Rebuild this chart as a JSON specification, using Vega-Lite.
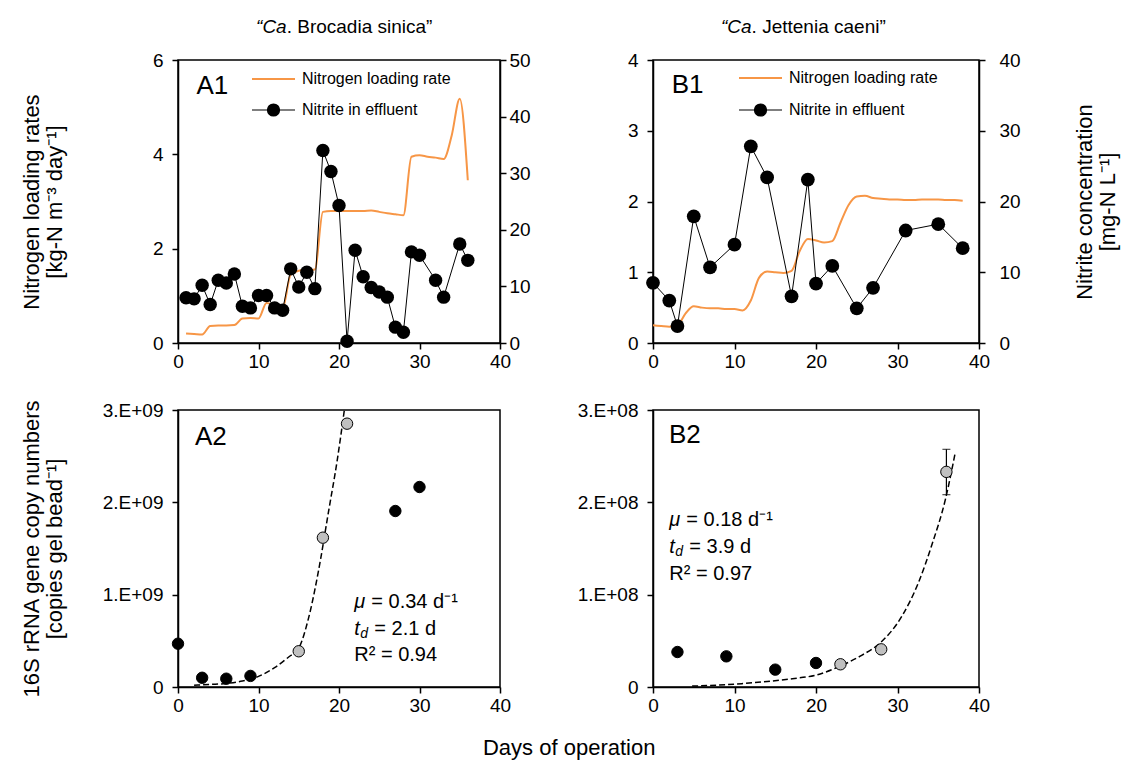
{
  "$schema": "https://vega.github.io/schema/vega-lite/v6.json",
  "background": "white",
  "padding": {"left": 19, "top": 16, "right": 5, "bottom": 5},
  "datasets": {
    "a1_nlr": [
      {"day":1,"nlr":0.2},{"day":2,"nlr":0.19},{"day":3,"nlr":0.18},{"day":4,"nlr":0.36},{"day":5,"nlr":0.37},{"day":6,"nlr":0.37},{"day":7,"nlr":0.38},{"day":8,"nlr":0.52},{"day":9,"nlr":0.53},{"day":10,"nlr":0.52},{"day":11,"nlr":0.85},{"day":12,"nlr":0.8},{"day":13,"nlr":0.74},{"day":14,"nlr":1.45},{"day":15,"nlr":1.53},{"day":16,"nlr":1.55},{"day":17,"nlr":1.56},{"day":18,"nlr":2.78},{"day":19,"nlr":2.8},{"day":20,"nlr":2.8},{"day":21,"nlr":2.8},{"day":22,"nlr":2.8},{"day":23,"nlr":2.8},{"day":24,"nlr":2.81},{"day":25,"nlr":2.78},{"day":26,"nlr":2.75},{"day":27,"nlr":2.73},{"day":28,"nlr":2.71},{"day":29,"nlr":3.95},{"day":30,"nlr":3.98},{"day":31,"nlr":3.95},{"day":32,"nlr":3.93},{"day":33,"nlr":3.9},{"day":34,"nlr":4.4},{"day":35,"nlr":5.18},{"day":36,"nlr":3.45}
    ],
    "a1_no2": [
      {"day":1,"no2":8.0},{"day":2,"no2":7.8},{"day":3,"no2":10.2},{"day":4,"no2":6.8},{"day":5,"no2":11.1},{"day":6,"no2":10.6},{"day":7,"no2":12.2},{"day":8,"no2":6.5},{"day":9,"no2":6.2},{"day":10,"no2":8.4},{"day":11,"no2":8.4},{"day":12,"no2":6.2},{"day":13,"no2":5.8},{"day":14,"no2":13.1},{"day":15,"no2":9.9},{"day":16,"no2":12.5},{"day":17,"no2":9.6},{"day":18,"no2":34.0},{"day":19,"no2":30.3},{"day":20,"no2":24.3},{"day":21,"no2":0.3},{"day":22,"no2":16.4},{"day":23,"no2":11.7},{"day":24,"no2":9.8},{"day":25,"no2":9.0},{"day":26,"no2":8.1},{"day":27,"no2":2.8},{"day":28,"no2":1.9},{"day":29,"no2":16.1},{"day":30,"no2":15.5},{"day":32,"no2":11.1},{"day":33,"no2":8.1},{"day":35,"no2":17.5},{"day":36,"no2":14.6}
    ],
    "b1_nlr": [
      {"day":0,"nlr":0.25},{"day":1,"nlr":0.24},{"day":2,"nlr":0.23},{"day":3,"nlr":0.25},{"day":4,"nlr":0.42},{"day":5,"nlr":0.52},{"day":6,"nlr":0.5},{"day":7,"nlr":0.49},{"day":8,"nlr":0.49},{"day":9,"nlr":0.48},{"day":10,"nlr":0.48},{"day":11,"nlr":0.46},{"day":12,"nlr":0.6},{"day":13,"nlr":0.92},{"day":14,"nlr":1.01},{"day":15,"nlr":1.0},{"day":16,"nlr":0.99},{"day":17,"nlr":1.02},{"day":18,"nlr":1.3},{"day":19,"nlr":1.47},{"day":20,"nlr":1.45},{"day":21,"nlr":1.42},{"day":22,"nlr":1.44},{"day":23,"nlr":1.7},{"day":24,"nlr":1.95},{"day":25,"nlr":2.07},{"day":26,"nlr":2.08},{"day":27,"nlr":2.05},{"day":28,"nlr":2.04},{"day":29,"nlr":2.03},{"day":30,"nlr":2.03},{"day":31,"nlr":2.02},{"day":32,"nlr":2.02},{"day":33,"nlr":2.03},{"day":34,"nlr":2.03},{"day":35,"nlr":2.03},{"day":36,"nlr":2.02},{"day":37,"nlr":2.02},{"day":38,"nlr":2.01}
    ],
    "b1_no2": [
      {"day":0,"no2":8.5},{"day":2,"no2":6.0},{"day":3,"no2":2.4},{"day":5,"no2":17.9},{"day":7,"no2":10.7},{"day":10,"no2":13.9},{"day":12,"no2":27.8},{"day":14,"no2":23.4},{"day":17,"no2":6.6},{"day":19,"no2":23.1},{"day":20,"no2":8.4},{"day":22,"no2":10.9},{"day":25,"no2":4.9},{"day":27,"no2":7.8},{"day":31,"no2":15.9},{"day":35,"no2":16.8},{"day":38,"no2":13.4}
    ],
    "a2_pts": [
      {"day":0,"copies":469000000,"fit":"no"},{"day":3,"copies":100000000,"fit":"no"},{"day":6,"copies":90000000,"fit":"no"},{"day":9,"copies":120000000,"fit":"no"},{"day":15,"copies":387000000,"fit":"yes"},{"day":18,"copies":1617000000,"fit":"yes"},{"day":21,"copies":2852000000,"fit":"yes"},{"day":27,"copies":1906000000,"fit":"no"},{"day":30,"copies":2166000000,"fit":"no"}
    ],
    "a2_curve": [
      {"day":2,"copies":20000000},{"day":4,"copies":28000000},{"day":6,"copies":38000000},{"day":8,"copies":65000000},{"day":10,"copies":115000000},{"day":12,"copies":210000000},{"day":13.75,"copies":325000000},{"day":15,"copies":420000000},{"day":16.2,"copies":740000000},{"day":17.5,"copies":1280000000},{"day":18.7,"copies":1900000000},{"day":19.75,"copies":2440000000},{"day":20.65,"copies":2990000000}
    ],
    "b2_pts": [
      {"day":3,"copies":37900000,"fit":"no"},{"day":9,"copies":33200000,"fit":"no"},{"day":15,"copies":18800000,"fit":"no"},{"day":20,"copies":26000000,"fit":"no"},{"day":23,"copies":24600000,"fit":"yes"},{"day":28,"copies":40800000,"fit":"yes"},{"day":36,"copies":233000000,"fit":"yes"}
    ],
    "b2_err": [
      {"day":36,"lo":208300000,"hi":257400000}
    ],
    "b2_curve": [
      {"day":4.8,"copies":1000000},{"day":8,"copies":2000000},{"day":10.9,"copies":3600000},{"day":14,"copies":6000000},{"day":17.1,"copies":9000000},{"day":19.9,"copies":12700000},{"day":23.2,"copies":23500000},{"day":25.6,"copies":34300000},{"day":28,"copies":48700000},{"day":30.6,"copies":77600000},{"day":32.6,"copies":113700000},{"day":34.2,"copies":153500000},{"day":35.9,"copies":204000000},{"day":37.1,"copies":254500000}
    ]
  },
  "title": {"text": "Days of operation", "orient": "bottom", "anchor": "middle", "frame": "bounds", "fontSize": 22, "fontWeight": "normal", "font": "Liberation Sans", "color": "black", "offset": 22},
  "columns": 2,
  "spacing": {"row": 67, "column": 153},
  "bounds": "flush",
  "align": "each",
  "resolve": {"scale": {"color": "independent"}, "legend": {"color": "independent"}},
  "concat": [
    {
      "width": 322, "height": 283,
      "resolve": {"scale": {"y": "independent"}},
      "layer": [
        {"layer": [
          {"data": {"name": "a1_nlr"},
           "mark": {"type": "line", "strokeWidth": 2, "interpolate": "monotone"},
           "encoding": {
             "x": {"field": "day", "type": "quantitative", "scale": {"domain": [0, 40]}, "axis": {"values": [0,10,20,30,40], "title": null, "labelPadding": 3}},
             "y": {"field": "nlr", "type": "quantitative", "scale": {"domain": [0, 6]}, "axis": {"orient": "left", "values": [0,2,4,6], "title": ["Nitrogen loading rates", "[kg-N m⁻³ day⁻¹]"], "titlePadding": 86}},
             "color": {"datum": "Nitrogen loading rate", "type": "nominal",
               "scale": {"domain": ["Nitrogen loading rate", "Nitrite in effluent"], "range": ["#F79646", "#000000"]},
               "legend": {"orient": "none", "legendX": 74, "legendY": 11, "direction": "vertical", "title": null, "symbolSize": 1849, "rowPadding": 14, "padding": 0, "labelFontSize": 16, "labelOffset": 5, "labelColor": "black", "labelLimit": 400,
                 "encode": {
                   "symbols": {"update": {
                     "x": {"value": 21.5},
                     "size": {"value": 1849},
                     "shape": {"signal": "datum.value === 'Nitrite in effluent' ? 'M-1,0L1,0M0.28,0A0.28,0.28,0,1,1,-0.28,0A0.28,0.28,0,1,1,0.28,0Z' : 'M-1,0L1,0'"},
                     "fill": {"value": "#000000"},
                     "stroke": {"signal": "datum.value === 'Nitrite in effluent' ? '#000000' : '#F79646'"},
                     "strokeWidth": {"signal": "datum.value === 'Nitrite in effluent' ? 1.2 : 2"},
                     "opacity": {"value": 1}}},
                   "labels": {"update": {"x": {"value": 50}}}}}}
           }},
          {"data": {"values": [{}]},
           "mark": {"type": "text", "text": "“Ca", "fontStyle": "italic", "fontSize": 19, "align": "right", "baseline": "middle"},
           "encoding": {"x": {"datum": 13.5, "type": "quantitative"}, "y": {"datum": 6.7, "type": "quantitative"}}},
          {"data": {"values": [{}]},
           "mark": {"type": "text", "text": ". Brocadia sinica”", "fontSize": 19, "align": "left", "baseline": "middle"},
           "encoding": {"x": {"datum": 13.5, "type": "quantitative"}, "y": {"datum": 6.7, "type": "quantitative"}}},
          {"data": {"values": [{}]},
           "mark": {"type": "text", "text": "A1", "fontSize": 26, "align": "left", "baseline": "middle"},
           "encoding": {"x": {"datum": 2.3, "type": "quantitative"}, "y": {"datum": 5.45, "type": "quantitative"}}}
        ]},
        {"data": {"name": "a1_no2"},
         "mark": {"type": "line", "strokeWidth": 1, "point": {"filled": true, "size": 180}},
         "encoding": {
           "x": {"field": "day", "type": "quantitative"},
           "y": {"field": "no2", "type": "quantitative", "scale": {"domain": [0, 50]}, "axis": {"orient": "right", "values": [0,10,20,30,40,50], "title": null, "labelPadding": 3}},
           "color": {"datum": "Nitrite in effluent", "type": "nominal"}
         }}
      ]
    },
    {
      "width": 326, "height": 283,
      "resolve": {"scale": {"y": "independent"}},
      "layer": [
        {"layer": [
          {"data": {"name": "b1_nlr"},
           "mark": {"type": "line", "strokeWidth": 2, "interpolate": "monotone"},
           "encoding": {
             "x": {"field": "day", "type": "quantitative", "scale": {"domain": [0, 40]}, "axis": {"values": [0,10,20,30,40], "title": null, "labelPadding": 3}},
             "y": {"field": "nlr", "type": "quantitative", "scale": {"domain": [0, 4]}, "axis": {"orient": "left", "values": [0,1,2,3,4], "format": "d", "title": null}},
             "color": {"datum": "Nitrogen loading rate", "type": "nominal",
               "scale": {"domain": ["Nitrogen loading rate", "Nitrite in effluent"], "range": ["#F79646", "#000000"]},
               "legend": {"orient": "none", "legendX": 86, "legendY": 10, "direction": "vertical", "title": null, "symbolSize": 1849, "rowPadding": 15, "padding": 0, "labelFontSize": 16, "labelOffset": 5, "labelColor": "black", "labelLimit": 400,
                 "encode": {
                   "symbols": {"update": {
                     "x": {"value": 21.5},
                     "size": {"value": 1849},
                     "shape": {"signal": "datum.value === 'Nitrite in effluent' ? 'M-1,0L1,0M0.28,0A0.28,0.28,0,1,1,-0.28,0A0.28,0.28,0,1,1,0.28,0Z' : 'M-1,0L1,0'"},
                     "fill": {"value": "#000000"},
                     "stroke": {"signal": "datum.value === 'Nitrite in effluent' ? '#000000' : '#F79646'"},
                     "strokeWidth": {"signal": "datum.value === 'Nitrite in effluent' ? 1.2 : 2"},
                     "opacity": {"value": 1}}},
                   "labels": {"update": {"x": {"value": 50}}}}}}
           }},
          {"data": {"values": [{}]},
           "mark": {"type": "text", "text": "“Ca", "fontStyle": "italic", "fontSize": 19, "align": "right", "baseline": "middle"},
           "encoding": {"x": {"datum": 12.1, "type": "quantitative"}, "y": {"datum": 4.47, "type": "quantitative"}}},
          {"data": {"values": [{}]},
           "mark": {"type": "text", "text": ". Jettenia caeni”", "fontSize": 19, "align": "left", "baseline": "middle"},
           "encoding": {"x": {"datum": 12.1, "type": "quantitative"}, "y": {"datum": 4.47, "type": "quantitative"}}},
          {"data": {"values": [{}]},
           "mark": {"type": "text", "text": "B1", "fontSize": 26, "align": "left", "baseline": "middle"},
           "encoding": {"x": {"datum": 2.3, "type": "quantitative"}, "y": {"datum": 3.65, "type": "quantitative"}}}
        ]},
        {"data": {"name": "b1_no2"},
         "mark": {"type": "line", "strokeWidth": 1, "point": {"filled": true, "size": 190}},
         "encoding": {
           "x": {"field": "day", "type": "quantitative"},
           "y": {"field": "no2", "type": "quantitative", "scale": {"domain": [0, 40]}, "axis": {"orient": "right", "values": [0,10,20,30,40], "labelPadding": 14, "title": ["Nitrite concentration", "[mg-N L⁻¹]"], "titleAngle": -90, "titleBaseline": "top", "titlePadding": 31}},
           "color": {"datum": "Nitrite in effluent", "type": "nominal"}
         }}
      ]
    },
    {
      "width": 322, "height": 277,
      "layer": [
        {"data": {"name": "a2_curve"},
         "mark": {"type": "line", "color": "black", "strokeWidth": 1.5, "strokeDash": [6, 3], "interpolate": "monotone"},
         "encoding": {
           "x": {"field": "day", "type": "quantitative", "scale": {"domain": [0, 40]}, "axis": {"values": [0,10,20,30,40], "title": null, "labelPadding": 3}},
           "y": {"field": "copies", "type": "quantitative", "scale": {"domain": [0, 3000000000]}, "axis": {"values": [0, 1000000000, 2000000000, 3000000000], "labelExpr": "datum.value === 0 ? '0' : format(datum.value / 1e9, 'd') + '.E+09'", "title": ["16S rRNA gene copy numbers", "[copies gel bead⁻¹]"], "titlePadding": 36}}
         }},
        {"data": {"name": "a2_pts"},
         "mark": {"type": "point", "filled": true, "size": 130, "stroke": "black", "strokeWidth": 1, "opacity": 1},
         "encoding": {
           "x": {"field": "day", "type": "quantitative"},
           "y": {"field": "copies", "type": "quantitative"},
           "color": {"field": "fit", "type": "nominal", "scale": {"domain": ["no", "yes"], "range": ["#000000", "#C0C0C0"]}, "legend": null}
         }},
        {"data": {"values": [{}]},
         "mark": {"type": "text", "text": "A2", "fontSize": 26, "align": "left", "baseline": "middle"},
         "encoding": {"x": {"datum": 2.1, "type": "quantitative"}, "y": {"datum": 2710000000, "type": "quantitative"}}},
        {"data": {"values": [{}]},
         "mark": {"type": "text", "text": "μ", "fontStyle": "italic", "fontSize": 20, "align": "left", "baseline": "middle"},
         "encoding": {"x": {"datum": 21.9, "type": "quantitative"}, "y": {"datum": 921000000, "type": "quantitative"}}},
        {"data": {"values": [{}]},
         "mark": {"type": "text", "text": "= 0.34 d⁻¹", "fontSize": 20, "align": "left", "baseline": "middle", "dx": 17},
         "encoding": {"x": {"datum": 21.9, "type": "quantitative"}, "y": {"datum": 921000000, "type": "quantitative"}}},
        {"data": {"values": [{}]},
         "mark": {"type": "text", "text": "t", "fontStyle": "italic", "fontSize": 20, "align": "left", "baseline": "middle"},
         "encoding": {"x": {"datum": 21.9, "type": "quantitative"}, "y": {"datum": 628000000, "type": "quantitative"}}},
        {"data": {"values": [{}]},
         "mark": {"type": "text", "text": "d", "fontStyle": "italic", "fontSize": 14, "align": "left", "baseline": "middle", "dx": 6, "dy": 5},
         "encoding": {"x": {"datum": 21.9, "type": "quantitative"}, "y": {"datum": 628000000, "type": "quantitative"}}},
        {"data": {"values": [{}]},
         "mark": {"type": "text", "text": "= 2.1 d", "fontSize": 20, "align": "left", "baseline": "middle", "dx": 20},
         "encoding": {"x": {"datum": 21.9, "type": "quantitative"}, "y": {"datum": 628000000, "type": "quantitative"}}},
        {"data": {"values": [{}]},
         "mark": {"type": "text", "text": "R² = 0.94", "fontSize": 20, "align": "left", "baseline": "middle"},
         "encoding": {"x": {"datum": 21.9, "type": "quantitative"}, "y": {"datum": 347000000, "type": "quantitative"}}}
      ]
    },
    {
      "width": 326, "height": 277,
      "layer": [
        {"data": {"name": "b2_curve"},
         "mark": {"type": "line", "color": "black", "strokeWidth": 1.5, "strokeDash": [6, 3], "interpolate": "monotone"},
         "encoding": {
           "x": {"field": "day", "type": "quantitative", "scale": {"domain": [0, 40]}, "axis": {"values": [0,10,20,30,40], "title": null, "labelPadding": 3}},
           "y": {"field": "copies", "type": "quantitative", "scale": {"domain": [0, 300000000]}, "axis": {"values": [0, 100000000, 200000000, 300000000], "labelExpr": "datum.value === 0 ? '0' : format(datum.value / 1e8, 'd') + '.E+08'", "title": null}}
         }},
        {"data": {"name": "b2_err"},
         "mark": {"type": "rule", "color": "black", "strokeWidth": 1.2},
         "encoding": {
           "x": {"field": "day", "type": "quantitative"},
           "y": {"field": "lo", "type": "quantitative"},
           "y2": {"field": "hi"}
         }},
        {"data": {"name": "b2_err"},
         "mark": {"type": "tick", "orient": "horizontal", "color": "black", "size": 8, "thickness": 1.2},
         "encoding": {
           "x": {"field": "day", "type": "quantitative"},
           "y": {"field": "lo", "type": "quantitative"}
         }},
        {"data": {"name": "b2_err"},
         "mark": {"type": "tick", "orient": "horizontal", "color": "black", "size": 8, "thickness": 1.2},
         "encoding": {
           "x": {"field": "day", "type": "quantitative"},
           "y": {"field": "hi", "type": "quantitative"}
         }},
        {"data": {"name": "b2_pts"},
         "mark": {"type": "point", "filled": true, "size": 130, "stroke": "black", "strokeWidth": 1, "opacity": 1},
         "encoding": {
           "x": {"field": "day", "type": "quantitative"},
           "y": {"field": "copies", "type": "quantitative"},
           "color": {"field": "fit", "type": "nominal", "scale": {"domain": ["no", "yes"], "range": ["#000000", "#C0C0C0"]}, "legend": null}
         }},
        {"data": {"values": [{}]},
         "mark": {"type": "text", "text": "B2", "fontSize": 26, "align": "left", "baseline": "middle"},
         "encoding": {"x": {"datum": 1.95, "type": "quantitative"}, "y": {"datum": 273000000, "type": "quantitative"}}},
        {"data": {"values": [{}]},
         "mark": {"type": "text", "text": "μ", "fontStyle": "italic", "fontSize": 20, "align": "left", "baseline": "middle"},
         "encoding": {"x": {"datum": 2.0, "type": "quantitative"}, "y": {"datum": 181000000, "type": "quantitative"}}},
        {"data": {"values": [{}]},
         "mark": {"type": "text", "text": "= 0.18 d⁻¹", "fontSize": 20, "align": "left", "baseline": "middle", "dx": 17},
         "encoding": {"x": {"datum": 2.0, "type": "quantitative"}, "y": {"datum": 181000000, "type": "quantitative"}}},
        {"data": {"values": [{}]},
         "mark": {"type": "text", "text": "t", "fontStyle": "italic", "fontSize": 20, "align": "left", "baseline": "middle"},
         "encoding": {"x": {"datum": 2.0, "type": "quantitative"}, "y": {"datum": 151600000, "type": "quantitative"}}},
        {"data": {"values": [{}]},
         "mark": {"type": "text", "text": "d", "fontStyle": "italic", "fontSize": 14, "align": "left", "baseline": "middle", "dx": 6, "dy": 5},
         "encoding": {"x": {"datum": 2.0, "type": "quantitative"}, "y": {"datum": 151600000, "type": "quantitative"}}},
        {"data": {"values": [{}]},
         "mark": {"type": "text", "text": "= 3.9 d", "fontSize": 20, "align": "left", "baseline": "middle", "dx": 20},
         "encoding": {"x": {"datum": 2.0, "type": "quantitative"}, "y": {"datum": 151600000, "type": "quantitative"}}},
        {"data": {"values": [{}]},
         "mark": {"type": "text", "text": "R² = 0.97", "fontSize": 20, "align": "left", "baseline": "middle"},
         "encoding": {"x": {"datum": 2.0, "type": "quantitative"}, "y": {"datum": 122400000, "type": "quantitative"}}}
      ]
    }
  ],
  "config": {
    "font": "Liberation Sans",
    "view": {"stroke": "black", "strokeWidth": 1.5},
    "axis": {"grid": false, "domainColor": "black", "domainWidth": 1.5, "tickColor": "black", "tickWidth": 1.5, "tickSize": 6, "labelFontSize": 19, "labelColor": "black", "labelFont": "Liberation Sans", "titleFont": "Liberation Sans", "titleFontSize": 22, "titleFontWeight": "normal", "titleColor": "black", "titleLineHeight": 23, "labelFlush": false, "labelOverlap": false, "labelPadding": 9},
    "text": {"font": "Liberation Sans", "color": "black"},
    "legend": {"labelFont": "Liberation Sans"}
  }
}
